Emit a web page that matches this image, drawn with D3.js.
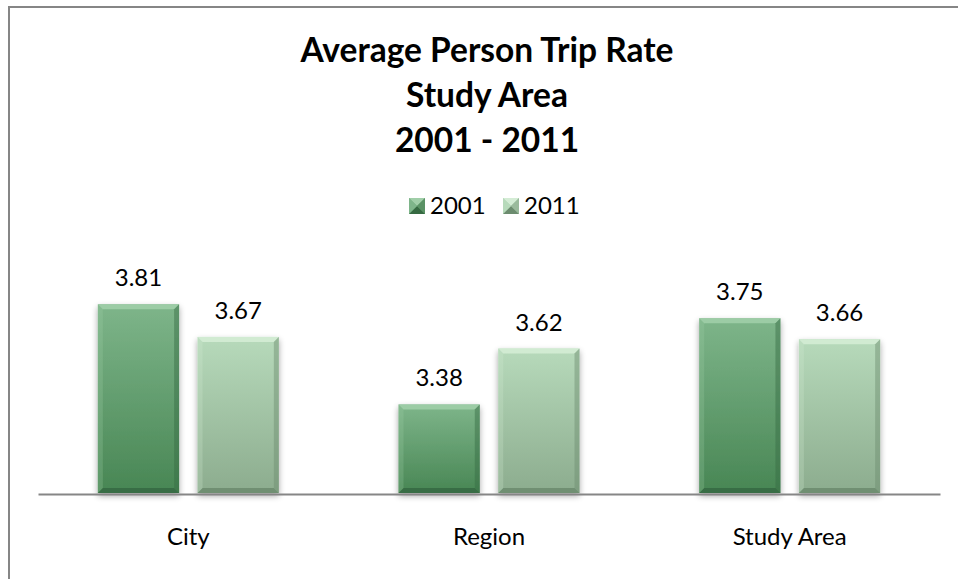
<!DOCTYPE html>
<html>
<head>
<meta charset="utf-8">
<script src="https://cdn.jsdelivr.net/npm/d3@7"></script>
<style>
  body { margin: 0; background: #fff; }
  svg { display: block; font-family: Lato, "Open Sans", sans-serif; }
</style>
</head>
<body>
<div id="chart"></div>
<script>
const categories = ['City', 'Region', 'Study Area'];
const seriesNames = ['2001', '2011'];
const values2001 = [3.81, 3.38, 3.75];
const values2011 = [3.67, 3.62, 3.66];
const titleLines = ['Average Person Trip Rate', 'Study Area', '2001 - 2011'];

const width = 958, height = 579;
const plotLeft = 38, plotRight = 940, plotTop = 260, plotBottom = 493;
const labelSize = '24px';

const data = categories.map((c, i) => ({ cat: c, vals: [
  { s: '2001', v: values2001[i] },
  { s: '2011', v: values2011[i] }
]}));

const svg = d3.select('#chart').append('svg')
  .attr('width', width).attr('height', height);

const defs = svg.append('defs');
// colours per series: top / bottom of the body, light edge, dark edge
const palette = {
  '2001': { top: '#7eb58a', bot: '#488654', light: '#a0cea8', dark: '#366a42', side: '#5a9265' },
  '2011': { top: '#b7dabb', bot: '#8cac8e', light: '#d4ecd5', dark: '#6c8c6f', side: '#9aba9c' }
};
seriesNames.forEach(s => {
  const g = defs.append('linearGradient').attr('id', 'grad' + s)
    .attr('x1', 0).attr('y1', 0).attr('x2', 0).attr('y2', 1);
  g.append('stop').attr('offset', '0%').attr('stop-color', palette[s].top);
  g.append('stop').attr('offset', '100%').attr('stop-color', palette[s].bot);
});
const shadow = defs.append('filter').attr('id', 'shadow')
  .attr('x', '-20%').attr('y', '-10%').attr('width', '140%').attr('height', '130%');
shadow.append('feGaussianBlur').attr('in', 'SourceAlpha').attr('stdDeviation', 3);
shadow.append('feOffset').attr('dx', 0).attr('dy', 3).attr('result', 'b');
shadow.append('feComponentTransfer').append('feFuncA').attr('type', 'linear').attr('slope', 0.35);
const merge = shadow.append('feMerge');
merge.append('feMergeNode');
merge.append('feMergeNode').attr('in', 'SourceGraphic');

// chart border (runs off right/bottom edge like the original)
svg.append('rect')
  .attr('x', 9).attr('y', 7).attr('width', 970).attr('height', 600)
  .attr('fill', 'none').attr('stroke', '#868686').attr('stroke-width', 2);

const x0 = d3.scaleBand().domain(categories).range([plotLeft, plotRight]);
const groupW = 181;
const x1 = d3.scaleBand().domain(seriesNames).range([0, groupW]).paddingInner(0.185);
const y = d3.scaleLinear().domain([3, 4]).range([plotBottom, plotTop]);

// title
svg.append('text')
  .attr('x', 487).attr('text-anchor', 'middle')
  .style('font-weight', 'bold').style('font-size', '33.5px').attr('fill', '#000')
  .selectAll('tspan').data(titleLines).enter().append('tspan')
  .attr('x', 487).attr('y', (d, i) => 62 + i * 45).text(d => d);

// legend
const legend = svg.append('g').attr('transform', 'translate(409,198)');
const legItems = legend.selectAll('g').data(seriesNames).enter().append('g')
  .attr('transform', (d, i) => `translate(${i * 94},0)`);
legItems.each(function(s) {
  const g = d3.select(this);
  const p = palette[s];
  g.append('rect').attr('width', 16).attr('height', 16).attr('fill', 'url(#grad' + s + ')');
  g.append('polygon').attr('points', '0,0 16,0 8,8').attr('fill', p.light);
  g.append('polygon').attr('points', '0,16 16,16 8,8').attr('fill', p.dark);
  g.append('polygon').attr('points', '0,0 0,16 8,8').attr('fill', p.top);
  g.append('polygon').attr('points', '16,0 16,16 8,8').attr('fill', p.side);
});
legItems.append('text').attr('x', 21).attr('y', 16)
  .style('font-size', labelSize).attr('fill', '#000').text(d => d);

// bars
const groups = svg.selectAll('.grp').data(data).enter().append('g')
  .attr('class', 'grp')
  .attr('transform', d => `translate(${x0(d.cat) + (x0.bandwidth() - groupW) / 2},0)`);

const bw = x1.bandwidth();
const bev = 5;
const bars = groups.selectAll('.bar').data(d => d.vals).enter().append('g')
  .attr('class', 'bar').attr('filter', 'url(#shadow)');
bars.each(function(d) {
  const g = d3.select(this);
  const p = palette[d.s];
  const xl = x1(d.s), xr = xl + bw, yt = y(d.v), yb = y(3);
  g.append('rect').attr('x', xl).attr('y', yt).attr('width', bw).attr('height', yb - yt)
    .attr('fill', 'url(#grad' + d.s + ')');
  // bevel edges
  g.append('polygon').attr('fill', p.light).attr('opacity', 0.9)
    .attr('points', [[xl, yt], [xr, yt], [xr - bev, yt + bev], [xl + bev, yt + bev]].join(' '));
  g.append('polygon').attr('fill', p.dark).attr('opacity', 0.9)
    .attr('points', [[xl, yb], [xr, yb], [xr - bev, yb - bev], [xl + bev, yb - bev]].join(' '));
  g.append('polygon').attr('fill', p.dark).attr('opacity', 0.45)
    .attr('points', [[xr, yt], [xr, yb], [xr - bev, yb - bev], [xr - bev, yt + bev]].join(' '));
  g.append('polygon').attr('fill', p.light).attr('opacity', 0.25)
    .attr('points', [[xl, yt], [xl, yb], [xl + bev, yb - bev], [xl + bev, yt + bev]].join(' '));
});

// value labels
groups.selectAll('.val').data(d => d.vals).enter().append('text')
  .attr('class', 'val')
  .attr('x', d => x1(d.s) + bw / 2)
  .attr('y', d => y(d.v) - 18)
  .attr('text-anchor', 'middle')
  .style('font-size', labelSize).attr('fill', '#000')
  .text(d => d.v.toFixed(2));

// baseline axis
const xAxis = svg.append('g').attr('transform', `translate(0,${plotBottom + 1})`)
  .call(d3.axisBottom(x0).tickSize(0).tickPadding(34));
xAxis.select('.domain').attr('stroke', '#868686').attr('stroke-width', 2);
xAxis.selectAll('text').style('font-size', labelSize).style('font-family', 'Lato, sans-serif').attr('fill', '#000');
</script>
</body>
</html>
